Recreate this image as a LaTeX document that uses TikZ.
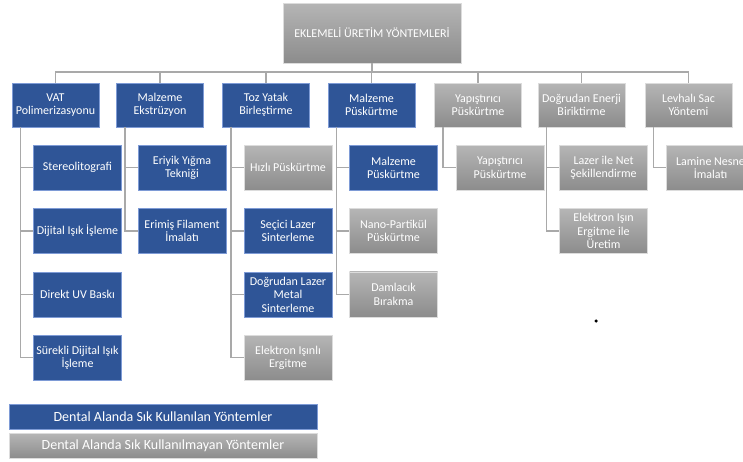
\documentclass[tikz,border=0pt]{standalone}
\usepackage{fontspec}
\setmainfont{Carlito}
\usepackage{xcolor}
\usetikzlibrary{calc}
\definecolor{dentalBlue}{HTML}{2F5597}
\definecolor{dentalBlueEdge}{HTML}{7E9BD6}
\definecolor{grayTop}{HTML}{B5B5B5}
\definecolor{grayBot}{HTML}{8C8C8C}
\definecolor{grayEdge}{HTML}{DCDCDC}
\definecolor{linkGray}{HTML}{A9A9A9}

\begin{document}
\begin{tikzpicture}[
    x=1pt,y=-1pt,
    every node/.style={font=\fontsize{12}{13.5}\selectfont,text=white,align=center,inner sep=1pt},
    often/.style={fill=dentalBlue,draw=dentalBlueEdge,line width=0.8pt},
    rare/.style={top color=grayTop,bottom color=grayBot,draw=grayEdge,line width=0.8pt},
    kind/.style={#1},
    branch/.style={minimum width=87pt,minimum height=44pt},
    leaf/.style={minimum width=88pt,minimum height=45pt},
    legend/.style={minimum width=308pt,minimum height=25pt,font=\fontsize{14}{16}\selectfont},
    link/.style={draw=linkGray,line width=1.3pt}
  ]
  \clip (0,0) rectangle (743,461);
  %% Root and the bus under it
  \node[rare,minimum width=178pt,minimum height=60pt] (root) at (372,33) {EKLEMELİ ÜRETİM YÖNTEMLERİ};
  \coordinate (bus) at (372,72);
  \foreach \bname/\bx/\bkind/\btext in {vat/55.5/often/{VAT\\Polimerizasyonu},
      me/160/often/{Malzeme\\Ekstrüzyon},
      pbf/266/often/{Toz Yatak\\Birleştirme},
      mjet/371.5/often/{Malzeme\\Püskürtme},
      binder/478/rare/{Yapıştırıcı\\Püskürtme},
      ded/581.5/rare/{Doğrudan Enerji\\Biriktirme},
      sheet/688.5/rare/{Levhalı Sac\\Yöntemi}}{
    \node[branch,kind/.expanded=\bkind] (\bname) at (\bx,105) {\btext};
    \draw[link] (root.south) -- (bus) -| (\bname.north);
  }
  %% Methods under each family
  \foreach \kname/\kup/\krow/\kkind/\ktext in {stereo/vat/1/often/Stereolitografi,
      dlp/vat/2/often/{Dijital Işık İşleme},
      uv/vat/3/often/{Direkt UV Baskı},
      cdlp/vat/4/often/{Sürekli Dijital Işık\\İşleme},
      fdm/me/1/often/{Eriyik Yığma\\Tekniği},
      fff/me/2/often/{Erimiş Filament\\İmalatı},
      hss/pbf/1/rare/{Hızlı Püskürtme},
      sls/pbf/2/often/{Seçici Lazer\\Sinterleme},
      dmls/pbf/3/often/{Doğrudan Lazer\\Metal\\Sinterleme},
      ebm/pbf/4/rare/{Elektron Işınlı\\Ergitme},
      mj/mjet/1/often/{Malzeme\\Püskürtme},
      npj/mjet/2/rare/{Nano-Partikül\\Püskürtme},
      dod/mjet/3/rare/{Damlacık\\Bırakma},
      bj/binder/1/rare/{Yapıştırıcı\\Püskürtme},
      lens/ded/1/rare/{Lazer ile Net\\Şekillendirme},
      ebam/ded/2/rare/{Elektron Işın\\Ergitme ile\\Üretim},
      lom/sheet/1/rare/{Lamine Nesne\\İmalatı}}{
    \pgfmathsetmacro{\kdy}{63.3*\krow-0.5}
    \node[leaf,kind/.expanded=\kkind] (\kname) at ($(\kup.center)+(22,\kdy)$) {\ktext};
    \draw[link] ([xshift=9pt]\kup.south west) |- (\kname.west);
  }
  %% Legend
  \node[legend,often] (lgOften) at (163,416.5) {Dental Alanda Sık Kullanılan Yöntemler};
  \node[legend,rare] (lgRare) at (163,446) {Dental Alanda Sık Kullanılmayan Yöntemler};
  \node[circle,fill=black,inner sep=0pt,minimum size=3.5pt] (dot) at (596,321) {};
\end{tikzpicture}
\end{document}
